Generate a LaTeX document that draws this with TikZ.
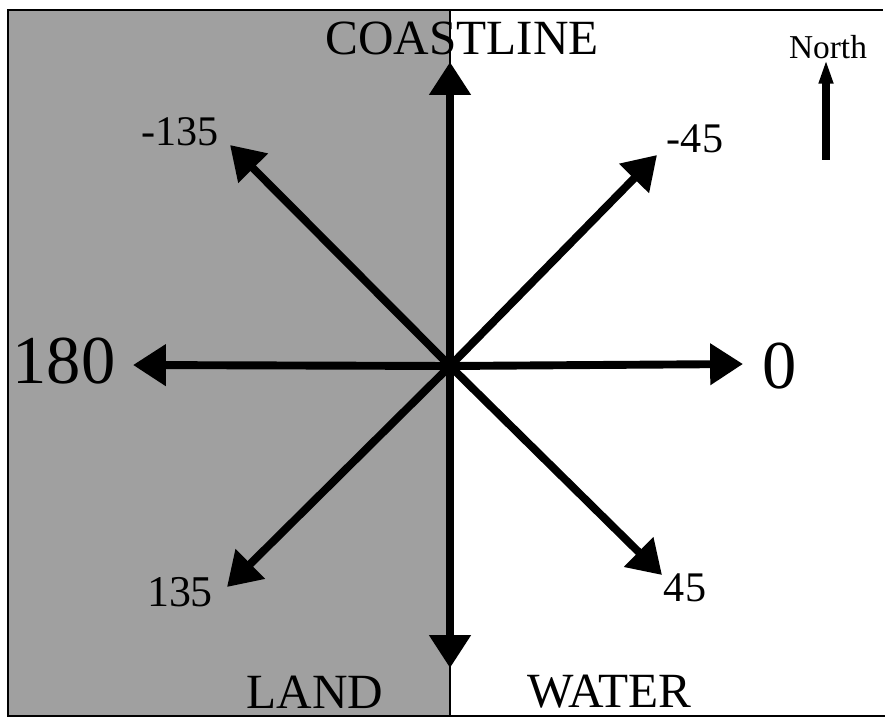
\documentclass[tikz,border=0pt]{standalone}
\usepackage{fontspec}
\setmainfont{Liberation Serif}
\usetikzlibrary{arrows.meta,positioning}
\definecolor{landgray}{RGB}{160,160,160}

\begin{document}
\begin{tikzpicture}[dir/.style={-{Triangle[length=18.7pt,width=22.7pt]}, line width=4.5pt},
    lbl/.style={inner sep=0pt}]
    \useasboundingbox (0,0) rectangle (17.7,14.34);
    % land side and frame
    \draw[fill=landgray, line width=1pt] (0.16,0.02) rectangle (9.0,14.14);
    \draw[line width=1pt] (9.0,14.14) -- (17.66,14.14);
    \draw[line width=1pt] (9.0,0.02) -- (17.7,0.02);
    \coordinate (c)   at (9.0,7.02);
    \coordinate (n)   at (9.0,13.1);
    \coordinate (s)   at (9.0,0.98);
    \coordinate (w)   at (2.66,7.04);
    \coordinate (e)   at (14.86,7.06);
    \coordinate (nw)  at (4.6,11.44);
    \coordinate (ne)  at (13.14,11.24);
    \coordinate (sw)  at (4.54,2.6);
    \coordinate (se)  at (13.24,2.84);
    \draw[dir] (c) -- (n);
    \draw[dir] (c) -- (s);
    \draw[dir] (c) -- (w);
    \draw[dir] (c) -- (e);
    \draw[dir] (c) -- (nw);
    \draw[dir] (c) -- (ne);
    \draw[dir] (c) -- (sw);
    \draw[dir] (c) -- (se);
    \node[lbl, font=\fontsize{28}{30}\selectfont] (coast) at (9.24,13.58) {COASTLINE};
    \node[lbl, font=\fontsize{24}{26}\selectfont] (lnw) at (3.6,11.7)  {-135};
    \node[lbl, font=\fontsize{24}{26}\selectfont] (lne) at (13.9,11.56) {-45};
    \node[lbl, font=\fontsize{39}{41}\selectfont] (lw)  at (1.28,7.12) {180};
    \node[lbl, font=\fontsize{39}{41}\selectfont] (le)  at (15.6,7.02) {0};
    \node[lbl, font=\fontsize{25}{27}\selectfont] (lsw) at (3.6,2.5)   {135};
    \node[lbl, font=\fontsize{24}{26}\selectfont] (lse) at (13.7,2.58) {45};
    \node[lbl, font=\fontsize{28}{30}\selectfont] (land)  at (6.3,0.5)  {LAND};
    \node[lbl, font=\fontsize{28}{30}\selectfont] (water) at (12.18,0.5) {WATER};
    % north marker
    \node[lbl, font=\fontsize{19}{21}\selectfont] (north) at (16.56,13.4) {North};
    \coordinate (nbase) at (16.52,11.14);
    \draw[-{Triangle[length=14pt,width=7.5pt]}, line width=4pt] (nbase) -- (north.south -| nbase);
\end{tikzpicture}
\end{document}
